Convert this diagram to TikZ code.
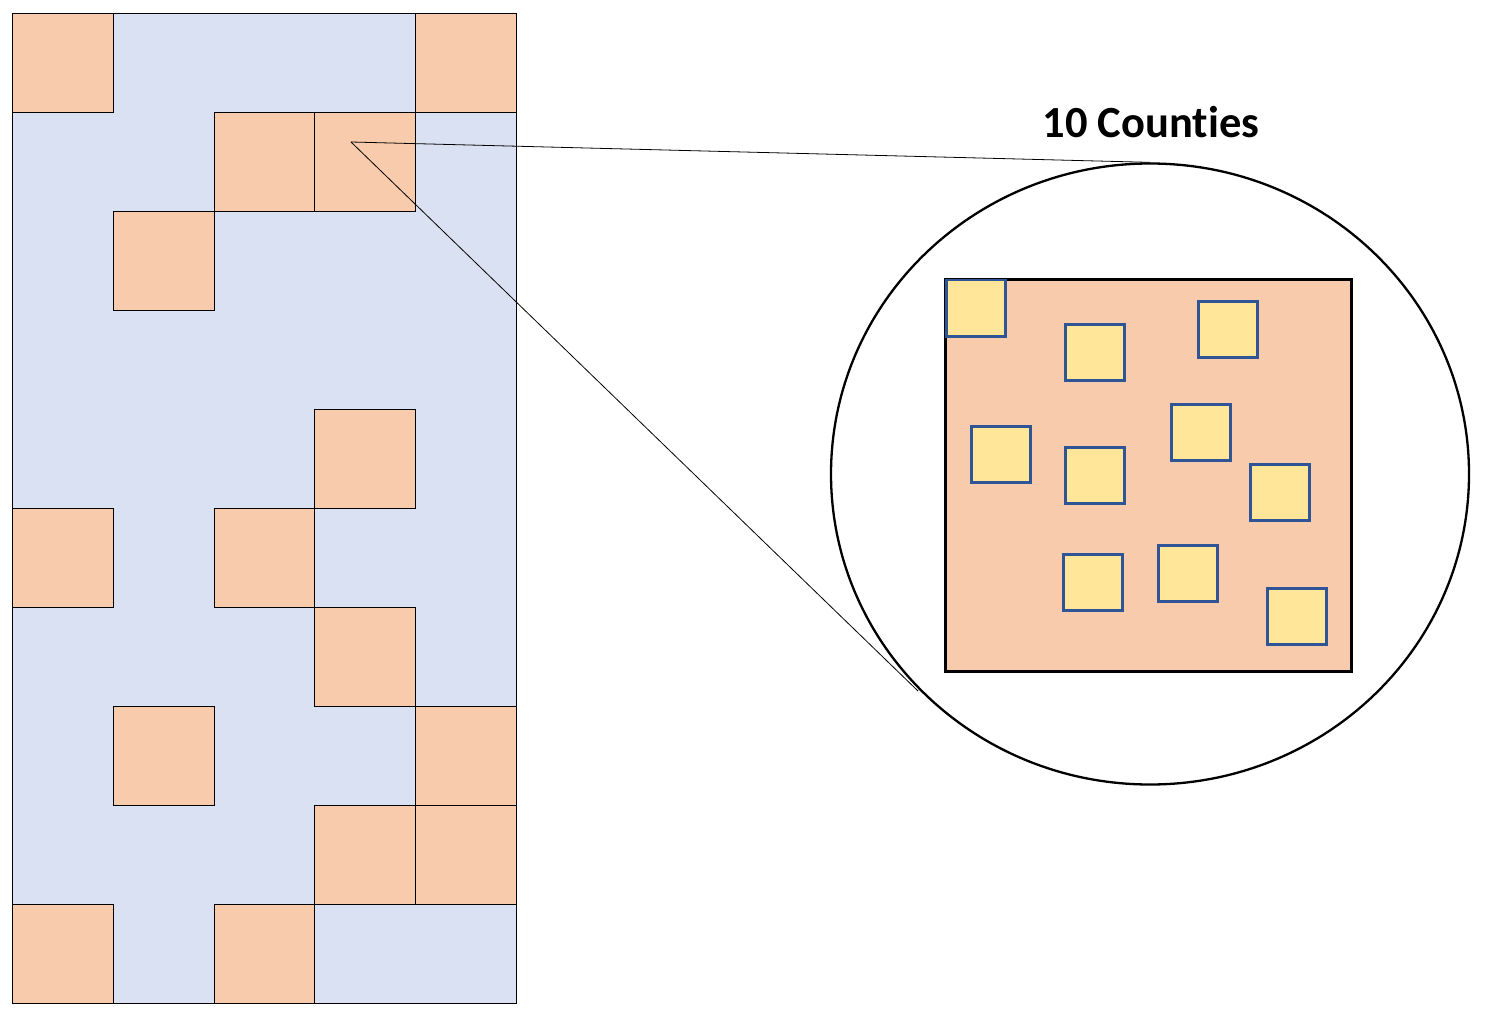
\documentclass[tikz,border=0pt]{standalone}
\usepackage{fontspec}
\setmainfont{Carlito}[Ligatures={NoCommon,NoContextual}]
\usetikzlibrary{shapes.geometric}
\definecolor{cellor}{HTML}{F8CBAD}
\definecolor{bgblue}{HTML}{DAE1F2}
\definecolor{cyel}{HTML}{FFE699}
\definecolor{cblue}{HTML}{2F5597}
\tikzset{
  cell/.style={draw=black, line width=1pt, fill=cellor, minimum width=100.8pt, minimum height=99pt, inner sep=0pt, anchor=north west},
  county/.style={draw=cblue, line width=2.5pt, fill=cyel, minimum width=59pt, minimum height=56pt, inner sep=0pt, anchor=north west},
  link/.style={draw=black, line width=0.8pt},
}
\begin{document}
\begin{tikzpicture}[x=1pt,y=-1pt]
\useasboundingbox (0,0) rectangle (1488,1032);
\fill[white] (0,0) rectangle (1488,1032);
% background map
\node[draw=black, line width=1pt, fill=bgblue, minimum width=504pt, minimum height=990pt, inner sep=0pt, anchor=north west] (map) at (12,13) {};
% orange cells: (col,row)
\foreach \c/\r [count=\i] in {0/0,4/0,2/1,3/1,1/2,3/4,0/5,2/5,3/6,1/7,4/7,3/8,4/8,0/9,2/9}{
  \node[cell] (cell\i) at ({12+100.8*\c},{13+99*\r}) {};
}
% zoom circle
\node[draw=black, line width=2.3pt, ellipse, minimum width=638pt, minimum height=621pt, inner sep=0pt] (circ) at (1150,474) {};
\node[draw=black, line width=3pt, fill=cellor, minimum width=406pt, minimum height=392pt, inner sep=0pt, anchor=north west] (area) at (944,278) {};
\foreach \x/\y [count=\i] in {945/279,1064/323,1197/300,970/425,1064/446,1170/403,1249/463,1062/553,1157/544,1266/587}{
  \node[county] (cty\i) at (\x,\y) {};
}
\node[font=\bfseries\fontsize{44.5}{50}\selectfont] (title) at (1151,122) {10 Count\kern0pt ies};
% connectors
\coordinate (src) at (351,142);
\coordinate (low) at (918,691);
\draw[link] (src) -- (circ.north);
\draw[link] (src) -- (low);
\end{tikzpicture}
\end{document}
